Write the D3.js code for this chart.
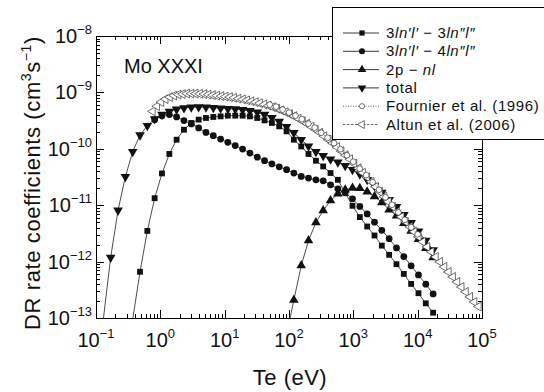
<!DOCTYPE html>
<html>
<head>
<meta charset="utf-8">
<script src="https://cdn.jsdelivr.net/npm/d3@7"></script>
<style>
  body { margin: 0; background: #fff; }
  text { font-family: "Liberation Sans", Arial, sans-serif; fill: #111; }
  .axis path, .axis line { stroke: #000; stroke-width: 1; shape-rendering: crispEdges; }
</style>
</head>
<body>
<div id="container"></div>
<script>
// Te grid of this work (eV)
var teGrid = [0.130, 0.169, 0.220, 0.286, 0.372, 0.483, 0.628, 0.816, 1.06, 1.38,
  1.79, 2.33, 3.03, 3.94, 5.12, 6.66, 8.65, 11.2, 14.6, 19.0,
  24.7, 32.1, 41.7, 54.2, 70.5, 91.7, 119, 155, 201, 262,
  340, 442, 575, 747, 971, 1262, 1641, 2133, 2773, 3604,
  4685, 6090, 7915, 10290, 13370, 17390];

// 3ln'l' - 3ln''l''  (squares)
var rate33 = [null, null, null, null, 9.5e-14, 6.6e-13, 3.5e-12, 1.33e-11, 3.66e-11, 8.1e-11,
  1.45e-10, 2.18e-10, 2.87e-10, 3.29e-10, 3.52e-10, 3.67e-10, 3.76e-10, 3.87e-10, 3.87e-10, 3.87e-10,
  3.76e-10, 3.52e-10, 3.19e-10, 2.87e-10, 2.50e-10, 2.04e-10, 1.45e-10, 1.10e-10, 8.1e-11, 6.15e-11,
  4.87e-11, 3.72e-11, 2.82e-11, 1.66e-11, 9.75e-12, 6.15e-12, 4.19e-12, 2.90e-12, 1.92e-12, 1.32e-12,
  9.0e-13, 6.05e-13, 4.02e-13, 2.75e-13, 1.82e-13, 1.24e-13];

// 3ln'l' - 4ln''l''  (circles)
var rate34 = [null, null, null, null, null, null, null, 3.29e-10, 3.87e-10, 4.04e-10,
  3.67e-10, 3.16e-10, 2.76e-10, 2.34e-10, 1.95e-10, 1.71e-10, 1.49e-10, 1.30e-10, 1.14e-10, 9.9e-11,
  8.4e-11, 7.1e-11, 6.15e-11, 5.4e-11, 4.8e-11, 4.26e-11, 3.72e-11, 3.24e-11, 3.03e-11, 2.82e-11,
  2.71e-11, 2.30e-11, 1.95e-11, 1.66e-11, 1.30e-11, 9.5e-12, 7.0e-12, 5.0e-12, 3.58e-12, 2.55e-12,
  1.75e-12, 1.23e-12, 8.4e-13, 5.8e-13, 3.97e-13, 2.67e-13];

// 2p - nl  (up triangles)
var rate2p = [null, null, null, null, null, null, null, null, null, null,
  null, null, null, null, null, null, null, null, null, null,
  null, null, null, null, null, 5e-14, 2.09e-13, 8.5e-13, 2.36e-12, 4.93e-12,
  8.05e-12, 1.21e-11, 1.60e-11, 1.88e-11, 2.01e-11, 2.0e-11, 1.73e-11, 1.43e-11, 1.12e-11, 8.3e-12,
  6.5e-12, 4.8e-12, 3.5e-12, 2.5e-12, 1.73e-12, 1.18e-12];

// total  (down triangles)
var rateTotal = [9.5e-14, 1.18e-12, 8.1e-12, 3.19e-11, 8.9e-11, 1.75e-10, 2.57e-10, 3.38e-10, 4.04e-10, 4.6e-10,
  5.0e-10, 5.3e-10, 5.45e-10, 5.5e-10, 5.45e-10, 5.35e-10, 5.25e-10, 5.15e-10, 5.05e-10, 4.9e-10,
  4.7e-10, 4.45e-10, 4.04e-10, 3.56e-10, 3.03e-10, 2.47e-10, 1.93e-10, 1.45e-10, 1.11e-10, 8.9e-11,
  7.55e-11, 6.53e-11, 5.78e-11, 5.0e-11, 4.26e-11, 3.54e-11, 2.82e-11, 2.21e-11, 1.67e-11, 1.25e-11,
  9.4e-12, 6.75e-12, 4.86e-12, 3.44e-12, 2.36e-12, 1.61e-12];

// Fournier et al. (1996)
var teFournier = [50.1, 63.1, 79.4, 100, 126, 158, 200, 251, 316, 398,
  501, 631, 794, 1000, 1259, 1585, 1995, 2512, 3162, 3981,
  5012, 6310, 7943, 10000];
var rateFournier = [6.07e-10, 5.59e-10, 4.95e-10, 4.38e-10, 3.87e-10, 3.36e-10, 2.79e-10, 2.37e-10, 1.93e-10, 1.57e-10,
  1.26e-10, 9.84e-11, 7.70e-11, 5.90e-11, 4.43e-11, 3.40e-11, 2.55e-11, 1.88e-11, 1.38e-11, 1.02e-11,
  7.48e-12, 5.51e-12, 4.05e-12, 3.04e-12];

// Altun et al. (2006)
var teAltun = [0.759, 0.885, 1.03, 1.20, 1.40, 1.63, 1.91, 2.22, 2.59, 3.02,
  3.52, 4.11, 4.79, 5.58, 6.51, 7.59, 8.85, 10.3, 12.0, 14.0,
  16.3, 19.1, 22.2, 25.9, 30.2, 35.2, 41.1, 47.9, 55.8, 65.1,
  75.9, 88.5, 103, 120, 140, 163, 191, 222, 259, 302,
  352, 411, 479, 558, 651, 759, 885, 1031, 1202, 1402,
  1634, 1905, 2222, 2590, 3020, 3522, 4105, 4786, 5581, 6505,
  7586, 8846, 10310, 12020, 14020, 16340, 19050, 22220, 25900, 30200,
  35220, 41050, 47860, 55810, 65050, 75860, 88460];
var rateAltun = [4.62e-10, 5.71e-10, 6.73e-10, 7.60e-10, 8.25e-10, 8.77e-10, 9.14e-10, 9.33e-10, 9.52e-10, 9.52e-10,
  9.52e-10, 9.44e-10, 9.33e-10, 9.14e-10, 8.96e-10, 8.77e-10, 8.60e-10, 8.42e-10, 8.25e-10, 8.02e-10,
  7.76e-10, 7.51e-10, 7.24e-10, 6.98e-10, 6.70e-10, 6.43e-10, 6.12e-10, 5.83e-10, 5.48e-10, 5.16e-10,
  4.81e-10, 4.47e-10, 4.12e-10, 3.79e-10, 3.42e-10, 3.09e-10, 2.79e-10, 2.47e-10, 2.18e-10, 1.93e-10,
  1.67e-10, 1.45e-10, 1.26e-10, 1.07e-10, 9.07e-11, 7.70e-11, 6.54e-11, 5.44e-11, 4.52e-11, 3.76e-11,
  3.13e-11, 2.60e-11, 2.12e-11, 1.73e-11, 1.41e-11, 1.15e-11, 9.37e-12, 7.63e-12, 6.22e-12, 5.07e-12,
  4.13e-12, 3.37e-12, 2.75e-12, 2.24e-12, 1.82e-12, 1.49e-12, 1.21e-12, 9.88e-13, 8.05e-13, 6.56e-13,
  5.35e-13, 4.36e-13, 3.55e-13, 2.90e-13, 2.36e-13, 1.92e-13, 1.60e-13];

var xExponents = [-1, 0, 1, 2, 3, 4, 5];
var yExponents = [-13, -12, -11, -10, -9, -8];

var legendLabels = [
  [["3", 0], ["ln\u2032l\u2032", 1], [" \u2212 3", 0], ["ln\u2033l\u2033", 1]],
  [["3", 0], ["ln\u2032l\u2032", 1], [" \u2212 4", 0], ["ln\u2033l\u2033", 1]],
  [["2p \u2212 ", 0], ["nl", 1]],
  [["total", 0]],
  [["Fournier et al. (1996)", 0]],
  [["Altun et al. (2006)", 0]]
];

var margin = { top: 36, left: 96, right: 62, bottom: 74 },
  width = 544 - margin.left - margin.right,
  height = 392 - margin.top - margin.bottom;

var root = d3.select("#container")
  .append("svg")
  .attr("width", 544)
  .attr("height", 392);

var svg = root.append("g")
  .attr("transform", "translate(" + margin.left + "," + margin.top + ")");

// Escalas
var x = d3.scaleLog().domain([0.1, 1e5]).range([0, width]);
var y = d3.scaleLog().domain([1e-13, 1e-8]).range([height, 0]);

svg.append("clipPath").attr("id", "clip")
  .append("rect").attr("width", width).attr("height", height);

// Ticks
var majorX = xExponents.map(function(e) { return Math.pow(10, e) });
var majorY = yExponents.map(function(e) { return Math.pow(10, e) });
var minorX = [], minorY = [];
xExponents.slice(0, -1).forEach(function(e) {
  for (var m = 2; m < 10; m++) minorX.push(m * Math.pow(10, e));
});
yExponents.slice(0, -1).forEach(function(e) {
  for (var m = 2; m < 10; m++) minorY.push(m * Math.pow(10, e));
});

function addAxis(axis, tx, ty) {
  svg.append("g").attr("class", "axis")
    .attr("transform", "translate(" + tx + "," + ty + ")")
    .call(axis.tickSizeOuter(0).tickFormat(""));
}
addAxis(d3.axisBottom(x).tickValues(minorX).tickSizeInner(-4), 0, height);
addAxis(d3.axisBottom(x).tickValues(majorX).tickSizeInner(-8), 0, height);
addAxis(d3.axisTop(x).tickValues(minorX).tickSizeInner(-4), 0, 0);
addAxis(d3.axisTop(x).tickValues(majorX).tickSizeInner(-8), 0, 0);
addAxis(d3.axisLeft(y).tickValues(minorY).tickSizeInner(-4), 0, 0);
addAxis(d3.axisLeft(y).tickValues(majorY).tickSizeInner(-8), 0, 0);
addAxis(d3.axisRight(y).tickValues(minorY).tickSizeInner(-4), width, 0);
addAxis(d3.axisRight(y).tickValues(majorY).tickSizeInner(-8), width, 0);

// Tick labels
function power(sel, e) {
  sel.append("tspan").text("10");
  sel.append("tspan").attr("dy", -9).attr("font-size", 13)
    .text(e < 0 ? "\u2212" + (-e) : e);
}
svg.selectAll(".xlab").data(xExponents).enter().append("text")
  .attr("class", "xlab")
  .attr("x", function(d) { return x(Math.pow(10, d)) })
  .attr("y", height + 29)
  .attr("text-anchor", "middle")
  .attr("font-size", 20)
  .each(function(d) { power(d3.select(this), d) });

svg.selectAll(".ylab").data(yExponents).enter().append("text")
  .attr("class", "ylab")
  .attr("x", -4)
  .attr("y", function(d) { return y(Math.pow(10, d)) + 7 })
  .attr("text-anchor", "end")
  .attr("font-size", 20)
  .each(function(d) { power(d3.select(this), d) });

// Titulos dos eixos
var yt = svg.append("text")
  .attr("transform", "translate(-56," + (height / 2 + 6) + ") rotate(-90)")
  .attr("text-anchor", "middle")
  .attr("font-size", 22)
  .attr("letter-spacing", 0.6);
yt.append("tspan").text("DR rate coefficients (cm");
yt.append("tspan").attr("dy", -9).attr("font-size", 14).text("3");
yt.append("tspan").attr("dy", 9).text("s");
yt.append("tspan").attr("dy", -9).attr("font-size", 14).text("\u22121");
yt.append("tspan").attr("dy", 9).text(")");

svg.append("text")
  .text("Te (eV)")
  .attr("x", 194)
  .attr("y", height + 67)
  .attr("text-anchor", "middle")
  .attr("font-size", 22)
  .attr("letter-spacing", 0.5);

svg.append("text")
  .text("Mo XXXI")
  .attr("x", 28)
  .attr("y", 37)
  .attr("font-size", 20);

// Series (same order as the legend)
function pairs(te, rates) {
  return te.map(function(t, i) { return { t: t, v: rates[i] } })
    .filter(function(d) { return d.v != null });
}

var series = [
  { data: pairs(teGrid, rate33), symbol: d3.symbolSquare, size: 34, rot: 0, fill: "#111", dash: null },
  { data: pairs(teGrid, rate34), symbol: d3.symbolCircle, size: 36, rot: 0, fill: "#111", dash: null },
  { data: pairs(teGrid, rate2p), symbol: d3.symbolTriangle, size: 40, rot: 0, fill: "#111", dash: null },
  { data: pairs(teGrid, rateTotal), symbol: d3.symbolTriangle, size: 40, rot: 180, fill: "#111", dash: null },
  { data: pairs(teFournier, rateFournier), symbol: d3.symbolCircle, size: 26, rot: 0, fill: "#fff", dash: "1,1.5" },
  { data: pairs(teAltun, rateAltun), symbol: d3.symbolTriangle, size: 34, rot: -90, fill: "#fff", dash: "2.5,1.5" }
];
var drawOrder = [1, 0, 2, 3, 5, 4];

var line = d3.line()
  .x(function(d) { return x(d.t) })
  .y(function(d) { return y(d.v) });

var plot = svg.append("g").attr("clip-path", "url(#clip)");

drawOrder.forEach(function(i) {
  var s = series[i];
  plot.append("path")
    .datum(s.data)
    .attr("d", line)
    .attr("fill", "none")
    .attr("stroke", s.dash ? "#555" : "#222")
    .attr("stroke-width", 0.8)
    .attr("stroke-dasharray", s.dash);

  plot.selectAll(".pt" + i)
    .data(s.data.filter(function(d) { return d.v >= 1e-13 }))
    .enter().append("path")
    .attr("class", "pt" + i)
    .attr("d", d3.symbol().type(s.symbol).size(s.size))
    .attr("transform", function(d) {
      return "translate(" + x(d.t) + "," + y(d.v) + ") rotate(" + s.rot + ")";
    })
    .attr("fill", s.fill)
    .attr("stroke", s.fill == "#fff" ? "#333" : "none")
    .attr("stroke-width", 0.7);
});

// Legenda
var legend = root.append("g");
legend.append("rect")
  .attr("x", 332.5).attr("y", 7.5)
  .attr("width", 230).attr("height", 132)
  .attr("fill", "#fff").attr("stroke", "#000").attr("stroke-width", 1);

legendLabels.forEach(function(parts, i) {
  var s = series[i];
  var ly = 33 + 18.3 * i;
  legend.append("line")
    .attr("x1", 343).attr("x2", 379).attr("y1", ly).attr("y2", ly)
    .attr("stroke", s.dash ? "#555" : "#222")
    .attr("stroke-width", 0.9)
    .attr("stroke-dasharray", s.dash);
  legend.append("path")
    .attr("d", d3.symbol().type(s.symbol).size(s.size * 0.8))
    .attr("transform", "translate(362," + ly + ") rotate(" + s.rot + ")")
    .attr("fill", s.fill)
    .attr("stroke", s.fill == "#fff" ? "#333" : "none")
    .attr("stroke-width", 0.7);
  var t = legend.append("text")
    .attr("x", 386).attr("y", ly + 5)
    .attr("font-size", 15)
    .attr("letter-spacing", 0.6);
  parts.forEach(function(p) {
    t.append("tspan").attr("font-style", p[1] ? "italic" : null).text(p[0]);
  });
});
</script>
</body>
</html>
